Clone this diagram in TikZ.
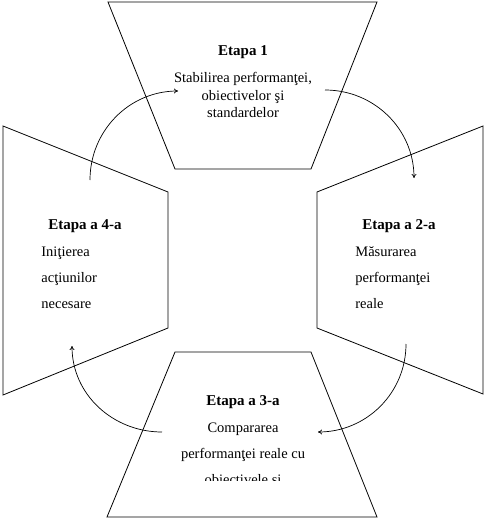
\documentclass[tikz,border=0pt]{standalone}
\usepackage{fontspec}
\setmainfont{Liberation Serif}
\usetikzlibrary{arrows.meta}
\begin{document}
\begin{tikzpicture}[x=1pt,y=1pt,line width=0.8pt,
  titlu/.style={anchor=base,inner sep=0pt,font=\fontsize{15}{18}\bfseries},
  rand/.style={anchor=base,inner sep=0pt,font=\fontsize{14.5}{17}\selectfont},
  sageata/.style={-{To[length=4pt,width=5pt]},line width=0.7pt}]
  \useasboundingbox (0,0) rectangle (486,-522);
  % cele patru trapeze
  \draw (108,-2) -- (377,-2) -- (311,-169) -- (175,-169) -- cycle;
  \draw (483,-126) -- (317,-192) -- (317,-328) -- (483,-394) -- cycle;
  \draw (175,-352) -- (311,-352) -- (377,-517) -- (107,-517) -- cycle;
  \draw (3,-126) -- (168,-192) -- (168,-328) -- (3,-395) -- cycle;
  % etapa 1
  \node[titlu] (e1) at (243,-55) {Etapa 1};
  \node[rand] (e1a) at (243,-82) {Stabilirea performanţei,};
  \node[rand] (e1b) at (243,-100) {obiectivelor şi};
  \node[rand] (e1c) at (243,-117.5) {standardelor};
  % etapa 2
  \node[titlu,anchor=base west] (e2) at (362,-229) {Etapa a 2-a};
  \node[rand,anchor=base west] (e2a) at (355,-256) {Măsurarea};
  \node[rand,anchor=base west] (e2b) at (355,-282) {performanţei};
  \node[rand,anchor=base west] (e2c) at (355,-308) {reale};
  % etapa 3
  \node[titlu] (e3) at (243,-405) {Etapa a 3-a};
  \node[rand] (e3a) at (243,-432) {Compararea};
  \node[rand] (e3b) at (243,-458) {performanţei reale cu};
  \begin{scope}
    \clip (100,-460) rectangle (390,-480);
    \node[rand] (e3c) at (243,-484) {obiectivele şi};
  \end{scope}
  % etapa 4
  \node[titlu,anchor=base west] (e4) at (48,-229) {Etapa a 4-a};
  \node[rand,anchor=base west] (e4a) at (41,-256) {Iniţierea};
  \node[rand,anchor=base west] (e4b) at (41,-282) {acţiunilor};
  \node[rand,anchor=base west] (e4c) at (41,-308) {necesare};
  % sagetile ciclului
  \coordinate (s1) at (90,-180);   \coordinate (t1) at (178,-91);
  \coordinate (s2) at (325,-90);   \coordinate (t2) at (414,-178);
  \coordinate (s3) at (406,-344);  \coordinate (t3) at (318,-432);
  \coordinate (s4) at (162,-432);  \coordinate (t4) at (72,-346);
  \draw[sageata] (s1) to[out=90,in=180] (t1);
  \draw[sageata] (s2) to[out=0,in=90] (t2);
  \draw[sageata] (s3) to[out=-90,in=0] (t3);
  \draw[sageata] (s4) to[out=180,in=-90] (t4);
\end{tikzpicture}
\end{document}
